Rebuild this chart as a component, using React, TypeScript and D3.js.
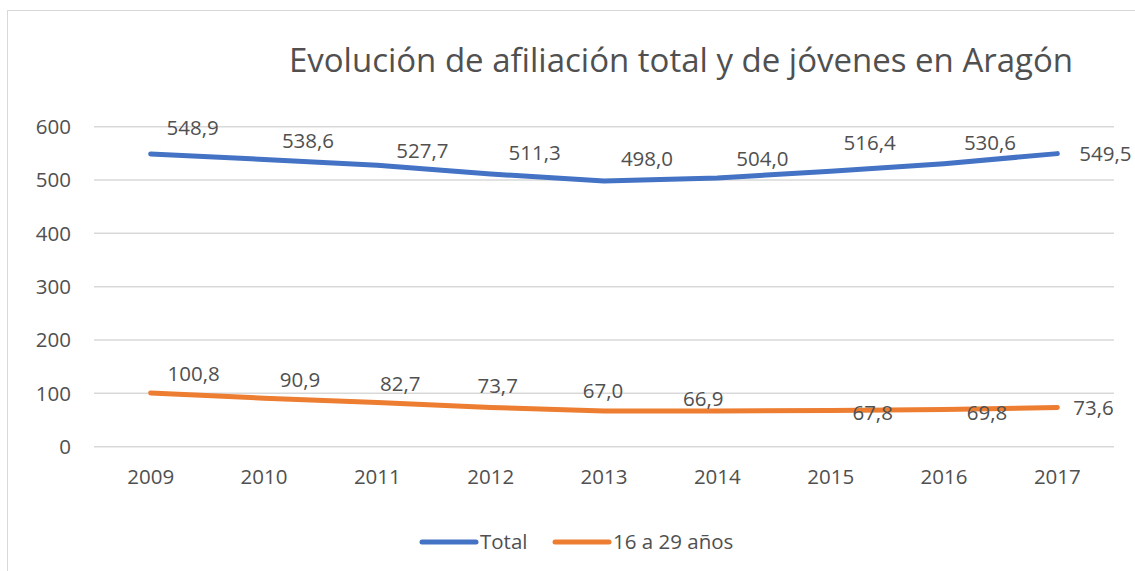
import React from 'react';
import * as d3 from 'd3';

const years = ['2009', '2010', '2011', '2012', '2013', '2014', '2015', '2016', '2017'];
const totalValues = [548.9, 538.6, 527.7, 511.3, 498.0, 504.0, 516.4, 530.6, 549.5];
const youthValues = [100.8, 90.9, 82.7, 73.7, 67.0, 66.9, 67.8, 69.8, 73.6];
const yTicks = [0, 100, 200, 300, 400, 500, 600];

// label nudges (px), as placed in the original chart
const totalLabelDx = [42, 44, 45, 44, 43, 45, 39, 46, 49];
const totalLabelDy = [-26, -19, -14, -21, -22, -19, -28, -21, 0];
const youthLabelDx = [43, 36, 23, 7, -1, -14, 42, 43, 43];
const youthLabelDy = [-19, -18, -19, -22, -20, -12, 2, 3, 0];

const W = 1135;
const H = 571;
const TEXT = '#505050';
const GRID = '#d9d9d9';
const FONT = '"Open Sans", "Noto Sans", sans-serif';
const FS = 20.5;

const fmt = (v: number) => v.toFixed(1).replace('.', ',');

export default function App() {
  const x = d3.scaleBand<string>().domain(years).range([94, 1114]);
  const y = d3.scaleLinear().domain([0, 600]).range([446.7, 126.7]);
  const cx = (d: string) => (x(d) || 0) + x.bandwidth() / 2;

  const line = d3.line<number>()
    .x((_, i) => cx(years[i]))
    .y(v => y(v))
    .curve(d3.curveLinear);

  const series = [
    { name: 'Total', values: totalValues, color: '#4472C4', dx: totalLabelDx, dy: totalLabelDy },
    { name: '16 a 29 años', values: youthValues, color: '#ED7D31', dx: youthLabelDx, dy: youthLabelDy },
  ];

  return (
    <svg width={W} height={H} style={{ position: 'absolute', left: 0, top: 0, background: '#fff' }} fontFamily={FONT}>
      <rect x={7.5} y={10.5} width={W + 10} height={H + 10} fill="#fff" stroke={GRID} strokeWidth={1} />

      <text x={681} y={72} textAnchor="middle" fontSize={33} fill={TEXT}>
        Evolución de afiliación total y de jóvenes en Aragón
      </text>

      {yTicks.map(t => (
        <g key={t}>
          <line x1={94} x2={1114} y1={y(t)} y2={y(t)} stroke={GRID} strokeWidth={1.5} />
          <text x={71} y={y(t)} dy="0.35em" textAnchor="end" fontSize={FS} fill={TEXT}>{t}</text>
        </g>
      ))}

      {years.map(yr => (
        <text key={yr} x={cx(yr)} y={477} dy="0.35em" textAnchor="middle" fontSize={FS} fill={TEXT}>{yr}</text>
      ))}

      {series.map(s => (
        <g key={s.name}>
          <path d={line(s.values) || ''} fill="none" stroke={s.color} strokeWidth={5}
            strokeLinecap="round" strokeLinejoin="round" />
          {s.values.map((v, i) => (
            <text key={i} x={cx(years[i]) + s.dx[i]} y={y(v) + s.dy[i]} dy="0.35em"
              textAnchor={i === years.length - 1 ? 'start' : 'middle'}
              dx={i === years.length - 1 ? -27 : 0}
              fontSize={FS} fill={TEXT}>{fmt(v)}</text>
          ))}
        </g>
      ))}

      {series.map((s, i) => {
        const lx = i === 0 ? 422 : 555;
        return (
          <g key={s.name}>
            <line x1={lx} x2={lx + 54} y1={542} y2={542} stroke={s.color} strokeWidth={5} strokeLinecap="round" />
            <text x={lx + 58} y={542} dy="0.35em" fontSize={FS} fill={TEXT}>{s.name}</text>
          </g>
        );
      })}
    </svg>
  );
}
